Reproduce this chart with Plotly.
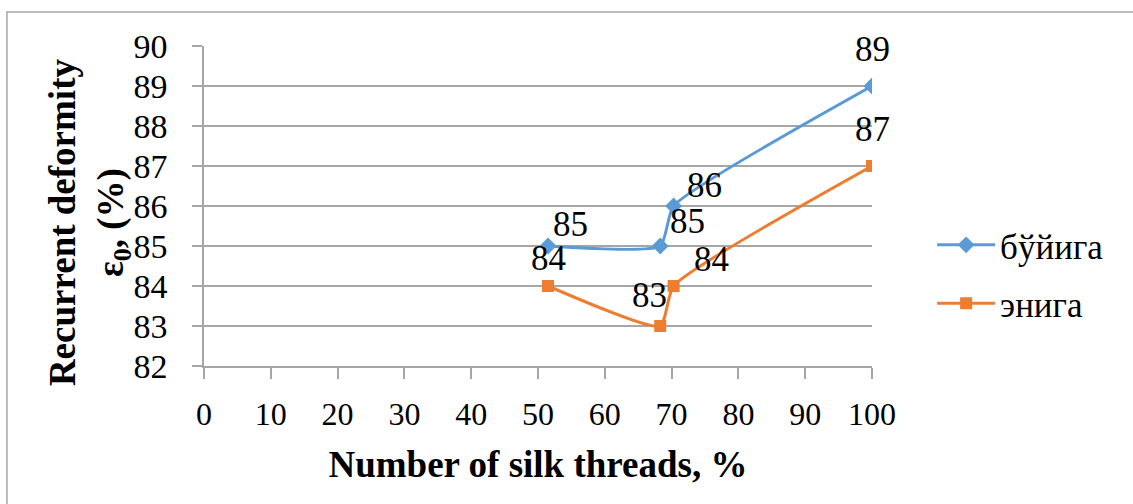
import plotly.graph_objects as go

# Share of silk threads, % (x values shared by both series)
silk_share = [51.5, 68.3, 70.3, 100]
# Recurrent deformity, %
along = [85, 85, 86, 89]    # бўйига
across = [84, 83, 84, 87]   # энига

series_names = ["бўйига", "энига"]
colors = ["#5B9BD5", "#ED7D31"]

# label offsets in pixels (dx, dy) for each point's value label
along_offsets = [(22, 22), (27, 25), (31, 21), (0, 37)]
across_offsets = [(0, 28), (-11, 31), (38, 27), (0, 37)]

FONT = "'Times New Roman', 'Liberation Serif', Tinos, serif"

fig = go.Figure()
fig.add_trace(go.Scatter(
    x=silk_share, y=along, name=series_names[0], mode="lines+markers",
    line=dict(color=colors[0], width=3, shape="spline", smoothing=0.5),
    marker=dict(symbol="diamond", size=13, color=colors[0]),
    legendgroup="a",
))
fig.add_trace(go.Scatter(
    x=silk_share, y=across, name=series_names[1], mode="lines+markers",
    line=dict(color=colors[1], width=3, shape="spline", smoothing=0.5),
    marker=dict(symbol="square", size=12, color=colors[1]),
    legendgroup="b",
))

annotations = []
for xs, ys, offs in [(silk_share, along, along_offsets), (silk_share, across, across_offsets)]:
    for xv, yv, (dx, dy) in zip(xs, ys, offs):
        annotations.append(dict(
            x=xv, y=yv, text=str(yv), showarrow=False,
            xshift=dx, yshift=dy,
            font=dict(family=FONT, size=35, color="black"),
        ))

# rotated y-axis title
annotations.append(dict(
    x=-0.172, y=0.45, xref="paper", yref="paper",
    text="<b>Recurrent deformity<br>ε<sub>0</sub>, (%)</b>",
    textangle=-90, showarrow=False, xanchor="center", yanchor="middle",
    font=dict(family=FONT, size=37, color="black"),
))

fig.update_layout(
    width=1133, height=504,
    margin=dict(l=204, r=261, t=46, b=138),
    paper_bgcolor="white", plot_bgcolor="white",
    font=dict(family=FONT, color="black"),
    showlegend=True,
    legend=dict(
        x=1.09, y=0.47, xanchor="left", yanchor="top",
        font=dict(family=FONT, size=35, color="black"),
        itemwidth=58, tracegroupgap=10, bgcolor="rgba(0,0,0,0)",
    ),
    annotations=annotations,
    shapes=[dict(
        type="rect", xref="paper", yref="paper",
        x0=-0.295, x1=1.45, y0=-0.5, y1=1.106,
        line=dict(color="#A6A6A6", width=1.5), layer="below",
    )],
)

fig.update_xaxes(
    range=[0, 100], dtick=10, tick0=0, showgrid=False, zeroline=False,
    showline=True, linecolor="#A6A6A6", linewidth=1.5,
    ticks="outside", ticklen=11, tickcolor="#A6A6A6", tickwidth=1.5,
    ticklabelstandoff=8,
    tickfont=dict(family=FONT, size=32, color="black"),
    title=dict(text="<b>Number of silk threads, %</b>", standoff=20,
               font=dict(family=FONT, size=37, color="black")),
)
fig.update_yaxes(
    range=[82, 90], dtick=1, tick0=82, showgrid=True, gridcolor="#A6A6A6",
    gridwidth=1.5, zeroline=False,
    showline=True, linecolor="#A6A6A6", linewidth=1.5,
    ticks="outside", ticklen=10, tickcolor="#A6A6A6", tickwidth=1.5,
    ticklabelstandoff=18,
    tickfont=dict(family=FONT, size=34, color="black"),
)

fig.write_html("out.html")
